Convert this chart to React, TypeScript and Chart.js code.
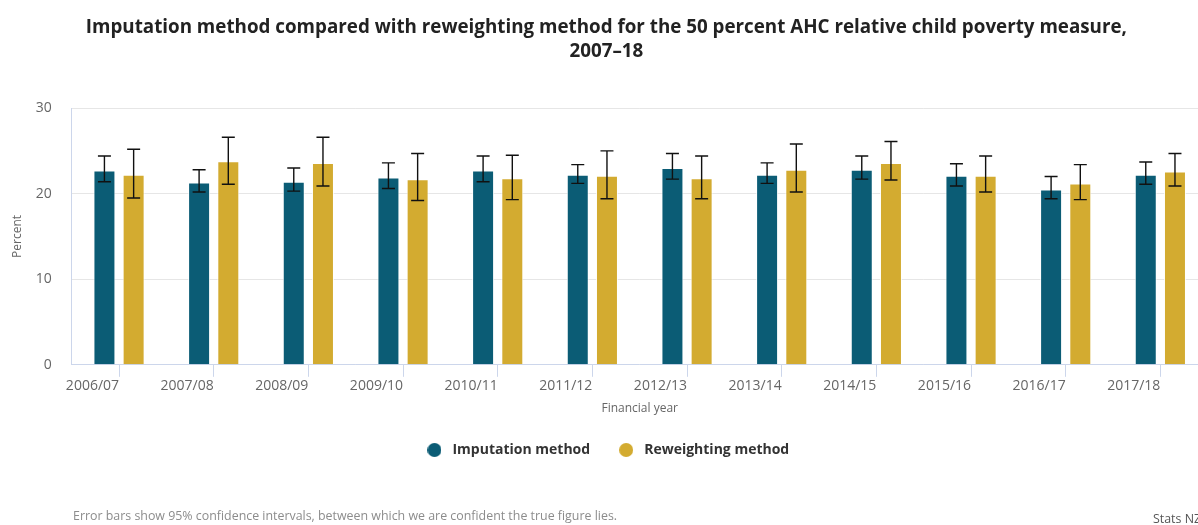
import React, { useEffect, useRef } from "react";
import { Chart, registerables } from "chart.js";

Chart.register(...registerables);

const categories = ["2006/07", "2007/08", "2008/09", "2009/10", "2010/11", "2011/12", "2012/13", "2013/14", "2014/15", "2015/16", "2016/17", "2017/18"];
const imputation = [22.7, 21.3, 21.4, 21.9, 22.7, 22.2, 23.0, 22.2, 22.8, 22.1, 20.5, 22.2];
const imputationLow = [21.4, 20.2, 20.3, 20.6, 21.4, 21.2, 21.7, 21.2, 21.7, 20.9, 19.4, 21.1];
const imputationHigh = [24.4, 22.8, 23.0, 23.6, 24.4, 23.4, 24.7, 23.6, 24.4, 23.5, 22.0, 23.7];
const reweighting = [22.2, 23.8, 23.6, 21.7, 21.8, 22.1, 21.8, 22.8, 23.6, 22.1, 21.2, 22.6];
const reweightingLow = [19.5, 21.1, 20.9, 19.2, 19.3, 19.4, 19.4, 20.2, 21.6, 20.2, 19.3, 20.9];
const reweightingHigh = [25.2, 26.6, 26.6, 24.7, 24.5, 25.0, 24.4, 25.8, 26.1, 24.4, 23.4, 24.7];
const yTicks = [0, 10, 20, 30];

const titleLines = ["Imputation method compared with reweighting method for the 50 percent AHC relative child poverty measure,", "2007–18"];
const footerNote = "Error bars show 95% confidence intervals, between which we are confident the true figure lies.";
const credit = "Stats NZ";

const IMP_COLOR = "#0b5c75";
const REW_COLOR = "#d3ab30";
const FONT = "'Open Sans', 'Noto Sans', sans-serif";

function dot(color: string, d: number) {
  const c = document.createElement("canvas");
  c.width = d;
  c.height = d;
  const ctx = c.getContext("2d")!;
  ctx.fillStyle = color;
  ctx.beginPath();
  ctx.arc(d / 2, d / 2, d / 2, 0, Math.PI * 2);
  ctx.fill();
  return c;
}

const errorBars = {
  id: "errorBars",
  afterDatasetsDraw(chart: any) {
    const { ctx, scales } = chart;
    const y = scales.y;
    const lows = [imputationLow, reweightingLow];
    const highs = [imputationHigh, reweightingHigh];
    ctx.save();
    ctx.strokeStyle = "#111111";
    ctx.lineWidth = 1.4;
    chart.data.datasets.forEach((_: any, di: number) => {
      const meta = chart.getDatasetMeta(di);
      meta.data.forEach((el: any, i: number) => {
        const x = el.x;
        const y1 = y.getPixelForValue(lows[di][i]);
        const y2 = y.getPixelForValue(highs[di][i]);
        ctx.beginPath();
        ctx.moveTo(x, y1);
        ctx.lineTo(x, y2);
        ctx.moveTo(x - 6.5, y1);
        ctx.lineTo(x + 6.5, y1);
        ctx.moveTo(x - 6.5, y2);
        ctx.lineTo(x + 6.5, y2);
        ctx.stroke();
      });
    });
    ctx.restore();
  },
};

const footer = {
  id: "footerText",
  afterDraw(chart: any) {
    const ctx = chart.ctx;
    ctx.save();
    ctx.font = `12.4px ${FONT}`;
    ctx.textBaseline = "alphabetic";
    ctx.textAlign = "left";
    ctx.fillStyle = "#8c8c8c";
    ctx.fillText(footerNote, 73, 520);
    ctx.fillStyle = "#555555";
    ctx.fillText(credit, 1153, 523);
    ctx.restore();
  },
};

export default function App() {
  const ref = useRef<HTMLCanvasElement>(null);
  useEffect(() => {
    if (!ref.current) return;
    const chart = new Chart(ref.current, {
      type: "bar",
      data: {
        labels: categories,
        datasets: [
          {
            label: "Imputation method",
            data: imputation,
            backgroundColor: IMP_COLOR,
            borderColor: "rgba(255,255,255,0.8)",
            borderWidth: 1,
            pointStyle: dot(IMP_COLOR, 14) as any,
            categoryPercentage: 0.617,
            barPercentage: 0.753,
          },
          {
            label: "Reweighting method",
            data: reweighting,
            backgroundColor: REW_COLOR,
            borderColor: "rgba(255,255,255,0.8)",
            borderWidth: 1,
            pointStyle: dot(REW_COLOR, 14) as any,
            categoryPercentage: 0.617,
            barPercentage: 0.753,
          },
        ],
      },
      options: {
        responsive: false,
        animation: false,
        layout: { padding: { left: 5, right: 6.3, top: 0, bottom: 58 } },
        plugins: {
          title: {
            display: true,
            text: titleLines,
            color: "#222222",
            font: { family: FONT, size: 18.8, weight: "bold", lineHeight: 1.28 },
            padding: { top: 16, bottom: 44 },
          },
          legend: {
            display: true,
            position: "bottom",
            labels: {
              usePointStyle: true,
              pointStyleWidth: 22,
              boxHeight: 14,
              padding: 25,
              color: "#333333",
              font: { family: FONT, size: 14, weight: "bold" },
            },
          },
          tooltip: { enabled: false },
        },
        scales: {
          x: {
            grid: { display: true, offset: false, drawOnChartArea: false, drawTicks: true, tickLength: 12, color: "#ccd6eb" },
            border: { display: true, color: "#ccd6eb", width: 1 },
            ticks: { align: "end", maxRotation: 0, autoSkip: false, padding: 1, color: "#666666", font: { family: FONT, size: 14 } },
            title: { display: true, text: "Financial year", color: "#666666", font: { family: FONT, size: 12 }, padding: { top: 6, bottom: 2 } },
          },
          y: {
            min: 0,
            max: 30,
            afterBuildTicks: (scale: any) => {
              scale.ticks = yTicks.map((v) => ({ value: v }));
            },
            afterFit: (scale: any) => {
              scale.width = 66.7;
            },
            grid: { color: "#e6e6e6", drawTicks: false },
            border: { display: true, color: "#ccd6eb", width: 1 },
            ticks: { padding: 20, color: "#666666", font: { family: FONT, size: 14 } },
            title: { display: true, text: "Percent", color: "#666666", font: { family: FONT, size: 12 }, padding: { top: 5, bottom: 0 } },
          },
        },
      },
      plugins: [errorBars, footer],
    });
    return () => chart.destroy();
  }, []);
  return (
    <div style={{ position: "fixed", left: 0, top: 0, width: 1198, height: 525, overflow: "hidden", background: "#ffffff" }}>
      <canvas ref={ref} width={1214} height={525} style={{ display: "block", width: 1214, height: 525 }} />
    </div>
  );
}
